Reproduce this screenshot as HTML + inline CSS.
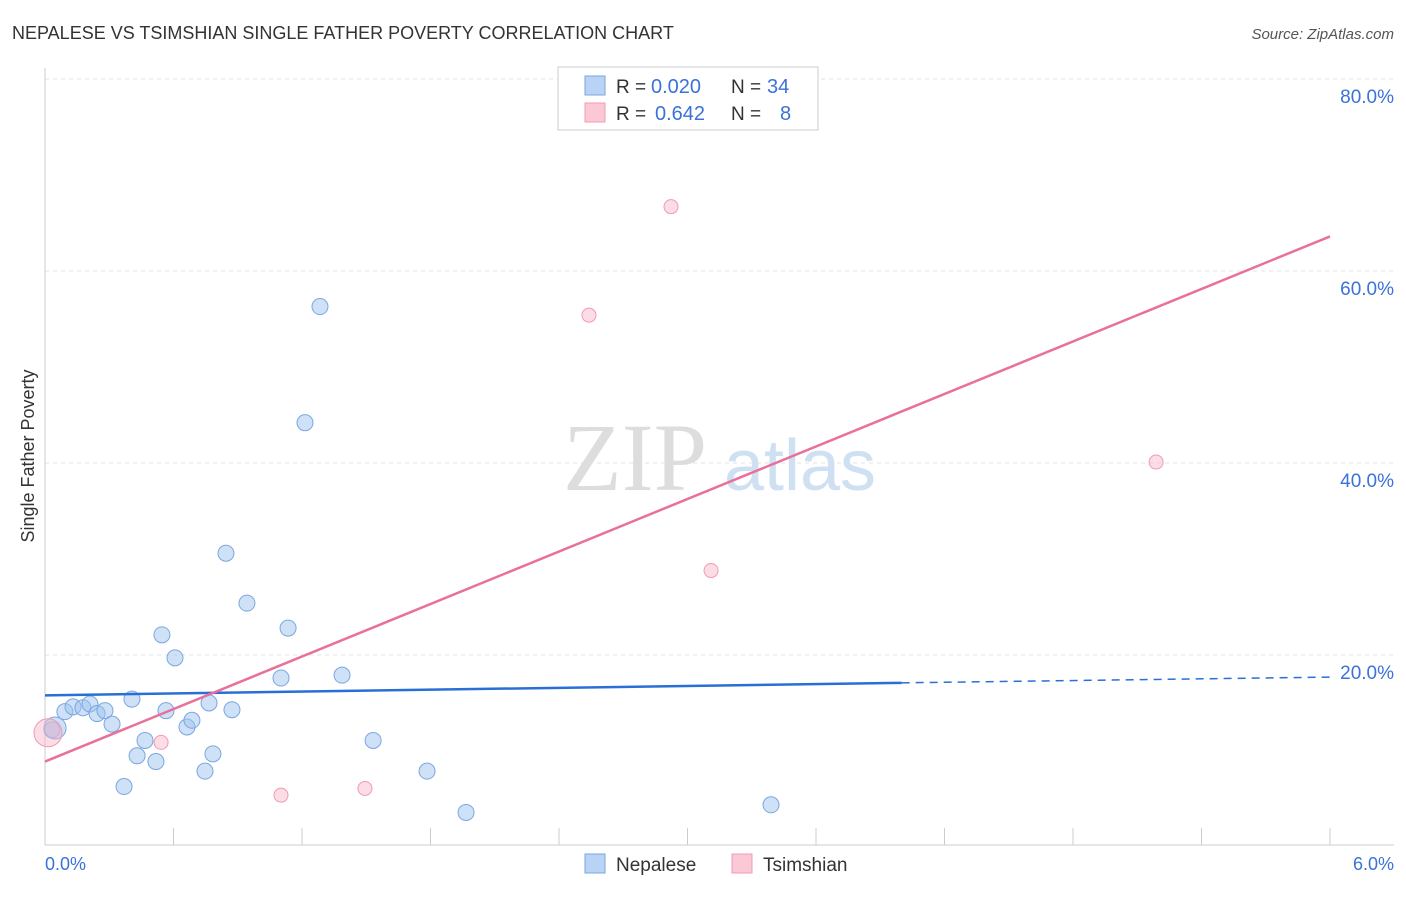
<!DOCTYPE html>
<html><head><meta charset="utf-8"><style>
body{margin:0;background:#fff;font-family:"Liberation Sans",sans-serif}
</style></head><body>
<svg width="1406" height="892" viewBox="0 0 1406 892" xmlns="http://www.w3.org/2000/svg">
<text x="12" y="39" font-size="18" fill="#333">NEPALESE VS TSIMSHIAN SINGLE FATHER POVERTY CORRELATION CHART</text>
<text x="1394" y="39" font-size="15" fill="#555" font-style="italic" text-anchor="end">Source: ZipAtlas.com</text>
<g id="grid"></g>
<g id="watermark">
<text x="635" y="490" font-size="96" fill="#ddd" font-family="Liberation Serif" text-anchor="middle">ZIP</text>
<text x="800" y="490" font-size="72" fill="#cfe0f3" text-anchor="middle">atlas</text></g>
<line x1="45" y1="68" x2="45" y2="845" stroke="#ccc"/>
<line x1="45" y1="845" x2="1394" y2="845" stroke="#ccc"/>
<g id="ticks"></g>
<g id="ylabels"></g>
<text x="45" y="870" font-size="18" fill="#3a72d8">0.0%</text>
<text x="1394" y="870" font-size="18" fill="#3a72d8" text-anchor="end">6.0%</text>
<text transform="translate(34,456) rotate(-90)" font-size="18" fill="#333" text-anchor="middle">Single Father Poverty</text>
<g id="points"></g>
<g id="lines"></g>
<g>
<rect x="558" y="67" width="260" height="63" fill="#fff" stroke="#ccc"/>
<rect x="585" y="76" width="20" height="19" fill="#b8d3f5" stroke="#7aa7e0"/>
<rect x="585" y="103" width="20" height="19" fill="#fbc8d6" stroke="#f09ab4"/>
<text x="616" y="93" font-size="19" fill="#333">R =</text>
<text x="651" y="93" font-size="20" fill="#3a72d8">0.020</text>
<text x="731" y="93" font-size="19" fill="#333">N =</text>
<text x="767" y="93" font-size="20" fill="#3a72d8">34</text>
<text x="616" y="120" font-size="19" fill="#333">R =</text>
<text x="655" y="120" font-size="20" fill="#3a72d8">0.642</text>
<text x="731" y="120" font-size="19" fill="#333">N =</text>
<text x="780" y="120" font-size="20" fill="#3a72d8">8</text>
</g>
<g>
<rect x="585" y="854" width="20" height="19" fill="#b8d3f5" stroke="#7aa7e0"/>
<text x="616" y="871" font-size="19" fill="#333">Nepalese</text>
<rect x="732" y="854" width="20" height="19" fill="#fbc8d6" stroke="#f09ab4"/>
<text x="763" y="871" font-size="19" fill="#333">Tsimshian</text>
</g>
</svg>
<script>
const yTicks=[20,40,60,80];
const blueX=[0.033,0.093,0.131,0.177,0.21,0.243,0.28,0.313,0.369,0.406,0.43,0.467,0.518,0.546,0.565,0.607,0.663,0.686,0.747,0.766,0.784,0.845,0.873,0.943,1.102,1.135,1.214,1.284,1.387,1.532,1.784,1.966,3.39,0.047];
const blueY=[12.2,14.1,14.6,14.5,14.9,13.9,14.2,12.8,6.3,15.4,9.5,11.1,8.9,22.1,14.2,19.7,12.5,13.2,7.9,15.0,9.7,30.6,14.3,25.4,17.6,22.8,44.2,56.3,17.9,11.1,7.9,3.6,4.4,12.4];
const pinkX=[0.014,0.542,1.102,1.494,2.54,2.923,3.11,5.188];
const pinkY=[11.9,10.9,5.4,6.1,55.4,66.7,28.8,40.1];
const blueLine=[15.8,17.1,17.7]; // at x=0, 4, 6
const pinkLine=[8.9,63.6]; // at x=0, 6
const NS="http://www.w3.org/2000/svg";
const sx=v=>45+v*1285/6, sy=v=>847-v*9.6;
function mk(t,a,p){const e=document.createElementNS(NS,t);for(const k in a)e.setAttribute(k,a[k]);p.appendChild(e);return e;}
const grid=document.getElementById('grid'),yl=document.getElementById('ylabels'),tk=document.getElementById('ticks');
yTicks.forEach(v=>{
 const l=mk('line',{x1:45,x2:1394,y1:sy(v),y2:sy(v),stroke:'#e3e3e3','stroke-dasharray':'4,4'},grid);
 
 
 const t=mk('text',{x:1394,y:sy(v)+24,'font-size':19,fill:'#3a72d8','text-anchor':'end'},yl);
 t.textContent=v.toFixed(1)+'%';
 
 
});
for(let i=1;i<=10;i++){const l=mk('line',{x1:sx(i*0.6),x2:sx(i*0.6),y1:828,y2:845,stroke:'#ccc'},tk);
 
 }
const pts=document.getElementById('points');
blueX.forEach((x,i)=>{const r=(i==33)?11:8;const c=mk('circle',{cx:sx(x),cy:sy(blueY[i]),r:r,fill:'rgba(160,196,240,0.5)',stroke:'#7aa7e0','stroke-width':1},pts);
 
 });
pinkX.forEach((x,i)=>{const r=(i==0)?14:7;const c=mk('circle',{cx:sx(x),cy:sy(pinkY[i]),r:r,fill:'rgba(248,180,200,0.45)',stroke:'#f09ab4','stroke-width':1},pts);
 
 });
const ln=document.getElementById('lines');
let a=mk('line',{x1:sx(0),y1:sy(blueLine[0]),x2:sx(4),y2:sy(blueLine[1]),stroke:'#2a6fd6','stroke-width':2.5},ln);


a=mk('line',{x1:sx(4),y1:sy(blueLine[1]),x2:sx(6),y2:sy(blueLine[2]),stroke:'#2a6fd6','stroke-width':1.5,'stroke-dasharray':'8,6'},ln);


a=mk('line',{x1:sx(0),y1:sy(pinkLine[0]),x2:sx(6),y2:sy(pinkLine[1]),stroke:'#e8709a','stroke-width':2.5},ln);


</script>
</body></html>
